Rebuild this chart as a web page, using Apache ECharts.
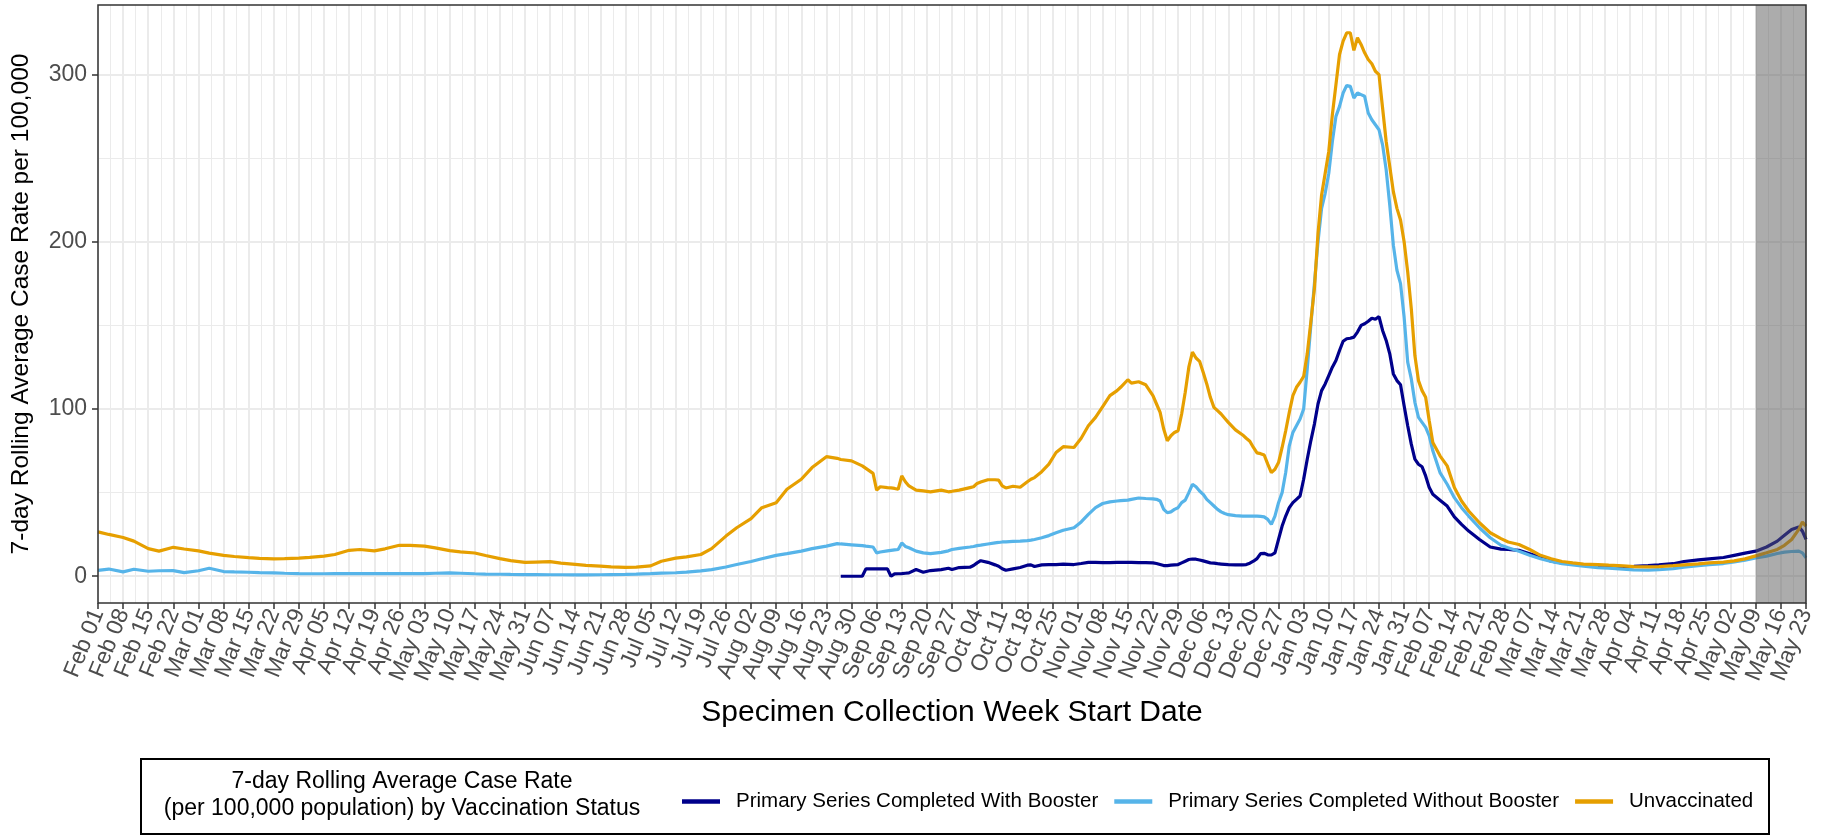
<!DOCTYPE html>
<html><head><meta charset="utf-8">
<script src="https://cdn.jsdelivr.net/npm/echarts@6/dist/echarts.min.js"></script>
<style>html,body{margin:0;padding:0;background:#fff}#c{width:1837px;height:840px}</style>
</head><body><div id="c"></div>
<script>
// ---------- DATA ----------
const seriesNames = ['Primary Series Completed With Booster', 'Primary Series Completed Without Booster', 'Unvaccinated'];
const seriesColors = ['#00008B', '#56B4E9', '#E69F00'];

const dates = [
  // Feb 2021
  '2021-02-01','2021-02-04','2021-02-08','2021-02-11','2021-02-15','2021-02-18','2021-02-22','2021-02-25',
  // Mar
  '2021-03-01','2021-03-04','2021-03-08','2021-03-11','2021-03-15','2021-03-18','2021-03-22','2021-03-25','2021-03-29',
  // Apr
  '2021-04-01','2021-04-05','2021-04-08','2021-04-12','2021-04-15','2021-04-19','2021-04-22','2021-04-26','2021-04-29',
  // May
  '2021-05-03','2021-05-06','2021-05-10','2021-05-13','2021-05-17','2021-05-20','2021-05-24','2021-05-27','2021-05-31',
  // Jun
  '2021-06-03','2021-06-07','2021-06-10','2021-06-14','2021-06-17','2021-06-21','2021-06-24','2021-06-28',
  // Jul
  '2021-07-01','2021-07-05','2021-07-08','2021-07-12','2021-07-15','2021-07-19','2021-07-22','2021-07-26','2021-07-29',
  // Aug
  '2021-08-02','2021-08-05','2021-08-09','2021-08-12','2021-08-16','2021-08-19','2021-08-23','2021-08-26','2021-08-27','2021-08-30',
  // Sep
  '2021-09-02','2021-09-03','2021-09-05','2021-09-06','2021-09-07','2021-09-09','2021-09-10','2021-09-11','2021-09-12','2021-09-13',
  '2021-09-14','2021-09-15','2021-09-17','2021-09-19','2021-09-21','2021-09-24','2021-09-26','2021-09-27','2021-09-29',
  // Oct
  '2021-10-02','2021-10-03','2021-10-04','2021-10-05','2021-10-07','2021-10-09','2021-10-10','2021-10-11','2021-10-12','2021-10-14',
  '2021-10-16','2021-10-18','2021-10-19','2021-10-20','2021-10-22','2021-10-24','2021-10-26','2021-10-28','2021-10-31',
  // Nov
  '2021-11-02','2021-11-04','2021-11-06','2021-11-08','2021-11-10','2021-11-12','2021-11-13','2021-11-15','2021-11-16','2021-11-18',
  '2021-11-20','2021-11-22','2021-11-23','2021-11-24','2021-11-25','2021-11-26','2021-11-27','2021-11-28','2021-11-29','2021-11-30',
  // Dec
  '2021-12-01','2021-12-02','2021-12-03','2021-12-04','2021-12-05','2021-12-06','2021-12-07','2021-12-08','2021-12-09','2021-12-10',
  '2021-12-11','2021-12-12','2021-12-13','2021-12-15','2021-12-17','2021-12-18','2021-12-19','2021-12-20','2021-12-21','2021-12-22',
  '2021-12-23','2021-12-24','2021-12-25','2021-12-26','2021-12-27','2021-12-28','2021-12-29','2021-12-30','2021-12-31',
  // Jan 2022
  '2022-01-01','2022-01-02','2022-01-03','2022-01-04','2022-01-05','2022-01-06','2022-01-07','2022-01-08','2022-01-09','2022-01-10',
  '2022-01-11','2022-01-12','2022-01-13','2022-01-14','2022-01-15','2022-01-16','2022-01-17','2022-01-18','2022-01-19','2022-01-20',
  '2022-01-21','2022-01-22','2022-01-23','2022-01-24','2022-01-25','2022-01-26','2022-01-27','2022-01-28','2022-01-29','2022-01-30','2022-01-31',
  // Feb
  '2022-02-01','2022-02-02','2022-02-03','2022-02-04','2022-02-05','2022-02-06','2022-02-07','2022-02-08','2022-02-10','2022-02-12',
  '2022-02-14','2022-02-16','2022-02-18','2022-02-21','2022-02-24','2022-02-27',
  // Mar
  '2022-03-01','2022-03-04','2022-03-07','2022-03-10','2022-03-13','2022-03-16','2022-03-19','2022-03-22','2022-03-26','2022-03-29',
  // Apr
  '2022-04-02','2022-04-05','2022-04-09','2022-04-12','2022-04-16','2022-04-19','2022-04-23','2022-04-26','2022-04-30',
  // May
  '2022-05-03','2022-05-06','2022-05-09','2022-05-12','2022-05-15','2022-05-17','2022-05-19','2022-05-21','2022-05-22','2022-05-23'
];

const unvaccinated = [
  26.5,25.0,23.2,21.0,16.5,15.0,17.3,16.3,
  15.2,13.8,12.5,11.8,11.1,10.7,10.4,10.5,10.8,
  11.3,12.0,13.0,15.5,16.0,15.2,16.4,18.5,18.5,
  18.0,17.0,15.3,14.6,13.9,12.4,10.5,9.3,8.3,
  8.5,8.7,7.8,7.1,6.5,6.0,5.6,5.3,
  5.4,6.2,9.0,10.8,11.6,13.0,16.5,24.0,29.0,
  34.5,41.0,44.0,52.0,58.0,65.0,71.5,70.5,69.8,69.0,
  66.0,64.5,61.5,51.5,53.5,53.0,52.8,52.5,52.0,60.0,
  56.5,54.0,51.5,51.0,50.5,51.5,50.5,50.8,51.5,
  53.0,53.5,55.5,56.3,57.7,57.7,57.5,54.0,52.8,53.8,
  53.2,56.5,58.0,59.0,62.5,67.0,74.0,77.5,77.0,
  82.5,90.0,95.0,101.5,108.0,111.0,113.0,117.5,115.5,116.3,
  114.5,108.0,103.0,98.0,88.0,81.0,84.0,86.0,87.0,97.0,
  110.0,125.0,134.0,130.5,128.5,122.0,115.0,107.0,101.0,99.0,
  97.0,94.5,92.0,87.5,84.5,82.5,80.7,77.0,73.8,73.3,
  72.5,67.0,62.0,64.0,68.0,77.0,87.0,98.0,108.0,
  113,116,119.5,133,152,172,205,228,241,254,
  276,294,312,320,325,325,314.5,322,318,313,
  309,306.5,302,300,280,260,245,230,220,213,200,
  182,160,132,117,111,107,93,80,72,66,
  53,45,39,32,26,22.5,
  20.5,19,16,12.5,10.5,8.8,8,7.3,7,6.6,
  6.2,5.8,5.6,5.8,6.3,6.8,7.4,8,8.4,
  9.2,10.4,12.2,14,16,18.5,22,28,32.4,30
];

const withoutBooster = [
  3.5,4.3,2.6,4.2,3.0,3.3,3.4,2.2,
  3.3,4.8,2.8,2.6,2.4,2.2,2.0,1.8,1.6,
  1.5,1.5,1.6,1.6,1.6,1.6,1.6,1.6,1.6,
  1.6,1.8,2.0,1.8,1.5,1.3,1.2,1.1,1.0,
  1.0,0.9,0.9,0.8,0.8,0.9,1.0,1.1,
  1.3,1.6,1.9,2.1,2.5,3.2,4.0,5.5,7.0,
  8.8,10.5,12.5,13.5,15.0,16.5,18.0,19.5,19.3,18.8,
  18.3,18.0,17.5,14.0,14.5,15.2,15.5,15.8,16.0,19.9,
  17.8,17.0,15.0,14.0,13.5,14.3,15.2,16.0,16.7,
  17.5,17.8,18.3,18.6,19.3,20.0,20.2,20.5,20.6,20.8,
  21.0,21.3,21.6,22.0,23.0,24.3,26.0,27.5,29.0,
  32.5,37.0,41.0,43.5,44.5,45.0,45.2,45.5,46.0,46.8,
  46.5,46.3,46.0,45.0,40.0,38.0,38.5,40.0,41.0,44.0,
  45.5,50.0,55.0,53.5,51.0,49.0,46.0,44.0,42.0,40.0,
  38.5,37.5,36.8,36.2,36.0,36.0,36.0,36.0,36.0,35.8,
  35.5,34.0,31.0,36.0,44.0,50.0,62.0,78.0,86.0,
  90,94,100,124,150,175,200,220,229,241,
  260,275,281,289,293.5,293,286,289,288,287,
  277,273,270,267,258,243,222,198,183,175,155,
  128,118,104,95,92,89,84,75,62,55,
  47,41,36,29,23,18.5,
  17,15,12.5,10.5,8.8,7.5,6.8,6,5.2,4.8,
  4.2,3.8,3.7,3.9,4.6,5.5,6.3,7,7.6,
  8.5,9.6,11,12,13.6,14.4,14.8,15,14,11
];

const withBooster = [
  null,null,null,null,null,null,null,null,
  null,null,null,null,null,null,null,null,null,
  null,null,null,null,null,null,null,null,null,
  null,null,null,null,null,null,null,null,null,
  null,null,null,null,null,null,null,null,
  null,null,null,null,null,null,null,null,null,
  null,null,null,null,null,null,null,null,0,0,
  0,4.4,4.4,4.4,4.4,4.4,0,1.4,1.5,1.6,
  1.8,2.0,4.0,2.4,3.4,4.0,4.8,4.0,5.2,
  5.4,6.4,8.0,9.3,8.3,6.8,6.0,4.5,3.6,4.4,
  5.2,6.6,6.8,5.8,6.8,6.9,7.0,7.2,7.0,
  7.6,8.3,8.3,8.2,8.2,8.3,8.3,8.3,8.3,8.2,
  8.1,8.0,7.6,7.0,6.4,6.4,6.6,6.8,7.0,8.0,
  9.0,10.0,10.3,10.2,9.7,9.2,8.6,8.0,7.8,7.5,
  7.3,7.1,6.9,6.8,6.8,7.0,7.8,9.0,10.5,13.5,
  13.7,12.8,12.7,14.0,22.0,30.0,36.0,41.0,44.0,
  46,48,58,70,81,91,103,111,115,120,
  125,129,135,140.5,142,142.3,143,146,150,151,
  152.5,154.3,153.7,155.3,147,141,133,121,117,114.5,102,
  90,79,70,67,65.5,60,53,49,45.5,42,
  35.5,31,27,22,17.5,16.2,
  16,15.5,13.5,11.5,9,8,7.3,6.8,6.3,6,
  5.8,5.9,6.3,6.8,7.5,8.8,9.8,10.4,11.2,
  12.5,13.8,15,17.5,21,24.5,28,29.5,27,22
];

const weekLabels = ['Feb 01','Feb 08','Feb 15','Feb 22','Mar 01','Mar 08','Mar 15','Mar 22','Mar 29','Apr 05','Apr 12','Apr 19','Apr 26',
  'May 03','May 10','May 17','May 24','May 31','Jun 07','Jun 14','Jun 21','Jun 28','Jul 05','Jul 12','Jul 19','Jul 26',
  'Aug 02','Aug 09','Aug 16','Aug 23','Aug 30','Sep 06','Sep 13','Sep 20','Sep 27','Oct 04','Oct 11','Oct 18','Oct 25',
  'Nov 01','Nov 08','Nov 15','Nov 22','Nov 29','Dec 06','Dec 13','Dec 20','Dec 27','Jan 03','Jan 10','Jan 17','Jan 24','Jan 31',
  'Feb 07','Feb 14','Feb 21','Feb 28','Mar 07','Mar 14','Mar 21','Mar 28','Apr 04','Apr 11','Apr 18','Apr 25',
  'May 02','May 09','May 16','May 23'];

const yMajorTicks = [0, 100, 200, 300];
const yMinorTicks = [50, 150, 250];
const axisEnd = '2022-05-23';
const shadeStart = '2022-05-09';
const yMin = -16, yMax = 341.6;

const xTitle = 'Specimen Collection Week Start Date';
const yTitle = '7-day Rolling Average Case Rate per 100,000';
const legendTitle = ['7-day Rolling Average Case Rate', '(per 100,000 population) by Vaccination Status'];

// ---------- BUILD ----------
const t0 = Date.UTC(2021, 1, 1);
function dayOf(s) { const p = s.split('-').map(Number); return (Date.UTC(p[0], p[1] - 1, p[2]) - t0) / 86400000; }
function pairs(arr) { return dates.map((d, i) => [dayOf(d), arr[i]]).filter(p => p[1] !== null); }

const FONT = "'Liberation Sans', Arial, Helvetica, sans-serif";
const G = { left: 98, top: 5, right: 1806, bottom: 603 };
const xMax = dayOf(axisEnd);

const chart = echarts.init(document.getElementById('c'), null, { renderer: 'canvas' });
const valueSeries = [withBooster, withoutBooster, unvaccinated].map((arr, i) => ({
  name: seriesNames[i], type: 'line', data: pairs(arr), showSymbol: false, symbol: 'none',
  lineStyle: { color: seriesColors[i], width: 3.2 }, itemStyle: { color: seriesColors[i] },
  z: 3 + i, animation: false, emphasis: { disabled: true }
}));

chart.setOption({
  animation: false,
  backgroundColor: '#ffffff',
  textStyle: { fontFamily: FONT },
  grid: { left: G.left, top: G.top, width: G.right - G.left, height: G.bottom - G.top, containLabel: false, outerBoundsMode: 'none', show: false },
  xAxis: {
    type: 'value', min: 0, max: xMax, interval: 7,
    axisLine: { show: false, onZero: false },
    axisTick: { show: true, length: 6, lineStyle: { color: '#333333', width: 1.5 } },
    axisLabel: {
      show: true, rotate: 68, margin: 7, fontSize: 23, color: '#4d4d4d', fontFamily: FONT, hideOverlap: false,
      showMinLabel: true, showMaxLabel: true,
      formatter: v => weekLabels[Math.round(v / 7)] || ''
    },
    splitLine: { show: true, lineStyle: { color: '#ebebeb', width: 2 } },
    minorTick: { show: false, splitNumber: 2 },
    minorSplitLine: { show: true, lineStyle: { color: '#ebebeb', width: 1 } }
  },
  yAxis: {
    type: 'value', min: yMin, max: yMax,
    axisLine: { show: false },
    axisTick: { show: true, length: 6, customValues: yMajorTicks, lineStyle: { color: '#333333', width: 1.5 } },
    axisLabel: { show: true, customValues: yMajorTicks, margin: 11, fontSize: 23, color: '#4d4d4d', fontFamily: FONT },
    splitLine: { show: false }
  },
  legend: {
    data: seriesNames, left: 677, top: 786, orient: 'horizontal',
    icon: 'rect', itemWidth: 38, itemHeight: 4.5, itemGap: 16,
    textStyle: { fontSize: 20.5, color: '#000', fontFamily: FONT, padding: [0, 0, 0, 11] },
    selectedMode: false
  },
  series: [
    { name: 'grid-y', type: 'line', data: [], z: 1, silent: true,
      markLine: { z: 1, silent: true, symbol: 'none', animation: false, label: { show: false },
        data: yMajorTicks.map(v => ({ yAxis: v, lineStyle: { color: '#ebebeb', width: 2, type: 'solid' } }))
          .concat(yMinorTicks.map(v => ({ yAxis: v, lineStyle: { color: '#ebebeb', width: 1, type: 'solid' } }))) } },
    ...valueSeries,
    { name: 'shade', type: 'line', data: [], z: 10, silent: true,
      markArea: { z: 10, silent: true, animation: false, itemStyle: { color: 'rgba(90,90,90,0.5)' }, label: { show: false },
        data: [[{ xAxis: dayOf(shadeStart) }, { xAxis: xMax }]] } }
  ],
  graphic: [
    { type: 'rect', z: 100, silent: true, shape: { x: G.left, y: G.top, width: G.right - G.left, height: G.bottom - G.top },
      style: { fill: null, stroke: '#333333', lineWidth: 1.5 } },
    { type: 'text', z: 100, x: 21, y: (G.top + G.bottom) / 2, rotation: Math.PI / 2,
      style: { text: yTitle, fontSize: 24.5, fontFamily: FONT, fill: '#000', align: 'center', verticalAlign: 'middle' } },
    { type: 'text', z: 100, x: (G.left + G.right) / 2, y: 713,
      style: { text: xTitle, fontSize: 30, fontFamily: FONT, fill: '#000', align: 'center', verticalAlign: 'middle' } },
    { type: 'rect', z: 100, silent: true, shape: { x: 141, y: 759, width: 1628, height: 75 },
      style: { fill: null, stroke: '#000', lineWidth: 2 } },
    { type: 'text', z: 100, x: 402, y: 782,
      style: { text: legendTitle[0], fontSize: 23, fontFamily: FONT, fill: '#000', align: 'center', verticalAlign: 'middle' } },
    { type: 'text', z: 100, x: 402, y: 809,
      style: { text: legendTitle[1], fontSize: 23, fontFamily: FONT, fill: '#000', align: 'center', verticalAlign: 'middle' } }
  ]
});
</script>
</body></html>
